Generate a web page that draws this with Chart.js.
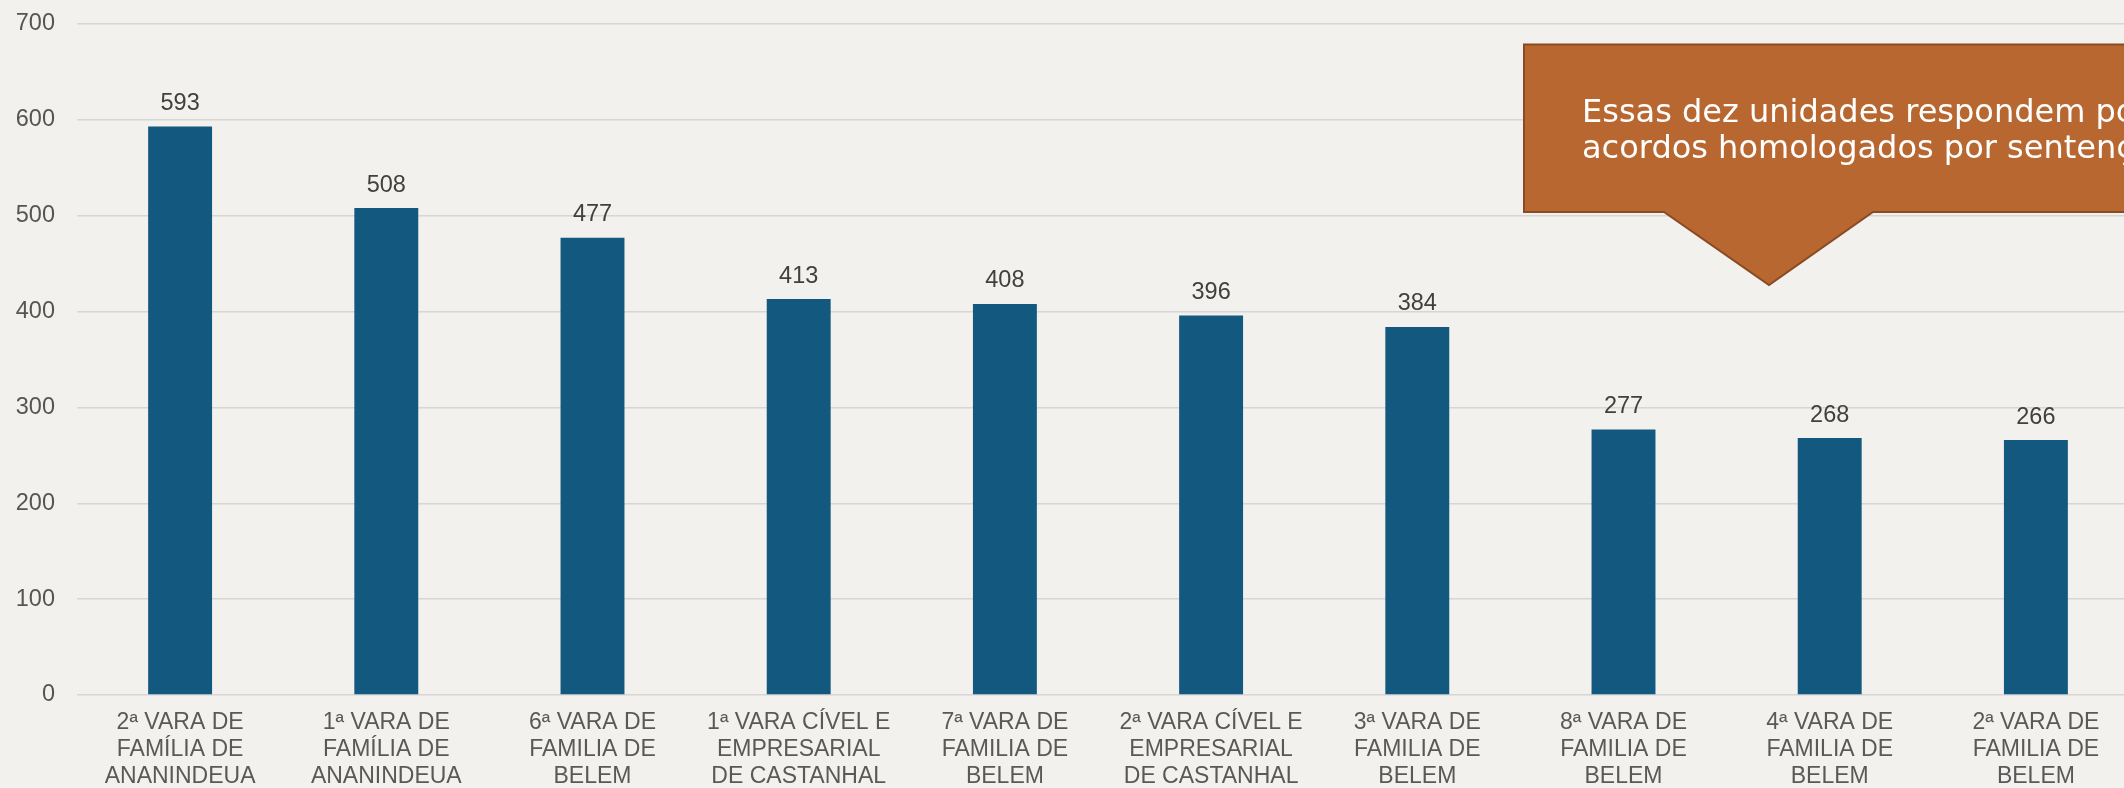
<!DOCTYPE html>
<html>
<head>
<meta charset="utf-8">
<script src="https://cdn.jsdelivr.net/npm/chart.js@4.4.1/dist/chart.umd.min.js"></script>
<style>
  html, body { margin: 0; padding: 0; overflow: hidden; background: #f3f1ed; }
  body { width: 2124px; height: 788px; }
  #wrap { position: absolute; left: 0; top: 0; }
</style>
</head>
<body>
<div id="wrap"><canvas id="chart" width="2140" height="788"></canvas></div>
<script>
// varas (labels split in lines) and sentencas homologatorias
const varas = [
  ['2ª VARA DE', 'FAMÍLIA DE', 'ANANINDEUA'],
  ['1ª VARA DE', 'FAMÍLIA DE', 'ANANINDEUA'],
  ['6ª VARA DE', 'FAMILIA DE', 'BELEM'],
  ['1ª VARA CÍVEL E', 'EMPRESARIAL', 'DE CASTANHAL'],
  ['7ª VARA DE', 'FAMILIA DE', 'BELEM'],
  ['2ª VARA CÍVEL E', 'EMPRESARIAL', 'DE CASTANHAL'],
  ['3ª VARA DE', 'FAMILIA DE', 'BELEM'],
  ['8ª VARA DE', 'FAMILIA DE', 'BELEM'],
  ['4ª VARA DE', 'FAMILIA DE', 'BELEM'],
  ['2ª VARA DE', 'FAMILIA DE', 'BELEM']
];
const acordos = [593, 508, 477, 413, 408, 396, 384, 277, 268, 266];
const yMax = 700;
const yStep = 100;
const calloutLines = ['Essas dez unidades respondem por', 'acordos homologados por sentença'];

// value labels over each bar
const valueLabels = {
  id: 'valueLabels',
  afterDatasetsDraw(chart){
    const ctx = chart.ctx;
    const meta = chart.getDatasetMeta(0);
    ctx.save();
    ctx.font = '23.5px "Liberation Sans", Arial, sans-serif';
    ctx.fillStyle = '#404040';
    ctx.textAlign = 'center';
    ctx.textBaseline = 'alphabetic';
    meta.data.forEach((bar, i)=>{
      ctx.fillText(String(acordos[i]), bar.x, bar.y - 16.5);
    });
    ctx.restore();
  }
};

// orange callout box with pointer
const callout = {
  id: 'callout',
  afterDraw(chart){
    const ctx = chart.ctx;
    const left = 1524, top = 44.5, bottom = 212, right = chart.width + 20;
    const baseL = 1664, baseR = 1873, tipX = 1769, tipY = 285;
    ctx.save();
    ctx.beginPath();
    ctx.moveTo(left, top);
    ctx.lineTo(right, top);
    ctx.lineTo(right, bottom);
    ctx.lineTo(baseR, bottom);
    ctx.lineTo(tipX, tipY);
    ctx.lineTo(baseL, bottom);
    ctx.lineTo(left, bottom);
    ctx.closePath();
    ctx.fillStyle = '#b7672f';
    ctx.fill();
    ctx.lineWidth = 2;
    ctx.strokeStyle = '#8a4a22';
    ctx.stroke();
    ctx.fillStyle = '#ffffff';
    ctx.font = '32px "DejaVu Sans", sans-serif';
    ctx.textAlign = 'left';
    ctx.textBaseline = 'alphabetic';
    ctx.fillText(calloutLines[0], 1582, 121.5);
    ctx.fillText(calloutLines[1], 1582, 158);
    ctx.restore();
  }
};

new Chart(document.getElementById('chart'), {
  type: 'bar',
  data: {
    labels: varas,
    datasets: [{
      data: acordos,
      backgroundColor: '#13587f',
      borderWidth: 0,
      barPercentage: 0.31,
      categoryPercentage: 1
    }]
  },
  options: {
    responsive: false,
    animation: false,
    devicePixelRatio: 1,
    layout: { padding: { top: 24, right: 1, bottom: 0, left: 0 } },
    plugins: { legend: { display: false }, tooltip: { enabled: false } },
    scales: {
      x: {
        grid: { display: false, drawTicks: false },
        border: { display: false },
        ticks: {
          color: '#595959',
          font: { family: '"Liberation Sans", Arial, sans-serif', size: 23, lineHeight: 1.17 },
          padding: 14,
          maxRotation: 0,
          autoSkip: false
        },
        afterFit(scale){ scale.height = 93; }
      },
      y: {
        min: 0,
        max: yMax,
        grid: { color: '#d6d6d6', lineWidth: 1.5, drawTicks: false },
        border: { display: false },
        ticks: {
          stepSize: yStep,
          color: '#555555',
          font: { family: '"Liberation Sans", Arial, sans-serif', size: 23.5 },
          padding: 22
        },
        afterFit(scale){
          scale.width = 77;
          scale.paddingTop = 0;
          scale.paddingBottom = 0;
        }
      }
    }
  },
  plugins: [valueLabels, callout]
});
</script>
</body>
</html>
